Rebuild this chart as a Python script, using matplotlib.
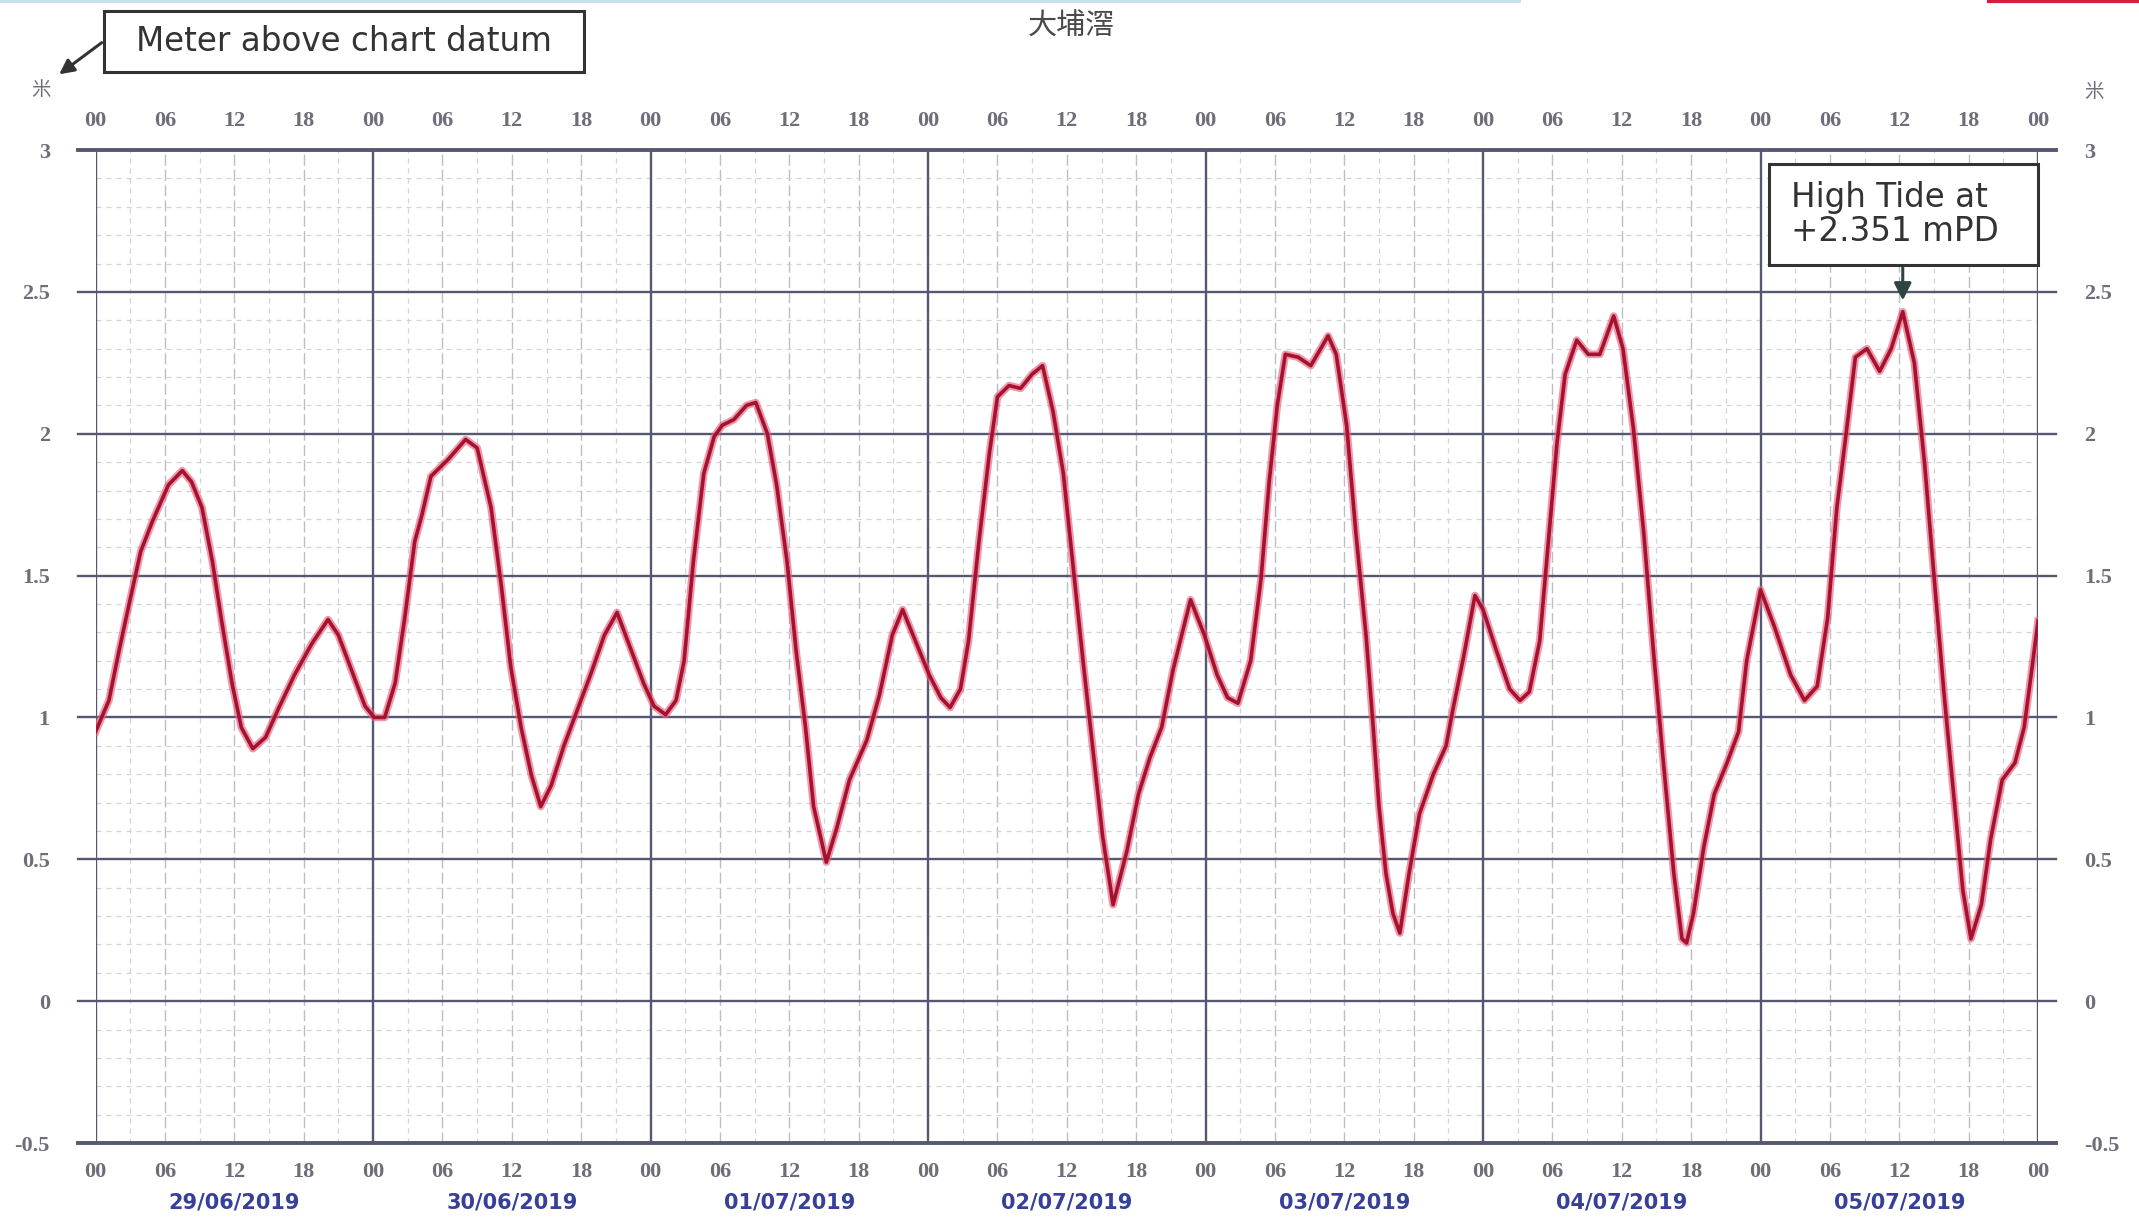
import numpy as np
import matplotlib
matplotlib.use("Agg")
from matplotlib import pyplot as plt
from matplotlib import patches, transforms
from matplotlib.lines import Line2D

# tide level at Tai Po Kau, hours counted from 00:00 29/06/2019
hours = [0, 1.15, 2, 2.9, 3.9, 4.9, 6.3, 7.5, 8.3, 9.2, 10.1, 10.9, 11.8, 12.6, 13.6,
         14.7, 15.8, 17.2, 18.7, 20.1, 21.0, 22.1, 23.3, 24.1, 25.0, 25.9, 26.7, 27.6,
         28.2, 29.0, 30.5, 32.0, 33.0, 34.2, 35.1, 35.9, 36.8, 37.7, 38.5, 39.4, 40.5,
         41.7, 42.8, 44.0, 45.1, 46.3, 47.4, 48.3, 49.3, 50.2, 50.9, 51.7, 52.6, 53.5,
         54.2, 55.2, 56.3, 57.1, 58.1, 58.9, 59.8, 60.6, 61.4, 62.1, 63.2, 64.1, 65.2,
         66.7, 67.8, 68.9, 69.8, 70.9, 72.1, 73.1, 73.9, 74.8, 75.5, 76.4, 77.3, 78.0,
         79.0, 80.0, 81.0, 81.9, 82.8, 83.7, 84.5, 85.4, 86.3, 87.1, 88.0, 89.2, 90.2,
         91.2, 92.2, 93.2, 94.7, 95.9, 97.0, 97.9, 98.8, 99.9, 100.8, 101.5, 102.2,
         102.9, 104.0, 105.1, 106.6, 107.3, 108.2, 109.0, 109.9, 110.5, 111.0, 111.6,
         112.2, 112.8, 113.6, 114.5, 115.7, 116.8, 117.4, 118.3, 119.3, 120.0, 121.2,
         122.3, 123.2, 124.0, 124.9, 125.5, 126.4, 127.1, 128.1, 129.1, 130.1, 131.3,
         132.1, 133.0, 133.9, 134.7, 135.6, 136.5, 137.2, 137.6, 138.2, 139.1, 140.0,
         141.1, 142.1, 142.8, 144.0, 145.2, 146.6, 147.8, 148.9, 149.8, 150.6, 151.4,
         152.2, 153.2, 154.3, 155.3, 156.3, 157.3, 158.2, 159.0, 159.9, 160.8, 161.5,
         162.2, 163.1, 163.9, 164.9, 166.0, 166.8, 167.4, 168.0]
level = [0.95, 1.06, 1.23, 1.40, 1.585, 1.69, 1.82, 1.87, 1.83, 1.74, 1.55, 1.34, 1.12, 0.965, 0.89,
         0.93, 1.03, 1.15, 1.26, 1.345, 1.29, 1.17, 1.04, 1.00, 1.00, 1.12, 1.34, 1.62,
         1.71, 1.85, 1.91, 1.98, 1.95, 1.74, 1.46, 1.18, 0.965, 0.795, 0.686, 0.76, 0.90,
         1.03, 1.15, 1.29, 1.37, 1.24, 1.12, 1.04, 1.01, 1.06, 1.20, 1.55, 1.86, 1.99,
         2.03, 2.05, 2.10, 2.11, 2.00, 1.82, 1.55, 1.23, 0.965, 0.686, 0.49, 0.61, 0.78,
         0.92, 1.08, 1.29, 1.38, 1.27, 1.15, 1.07, 1.035, 1.10, 1.27, 1.62, 1.93, 2.13,
         2.17, 2.16, 2.21, 2.24, 2.08, 1.86, 1.55, 1.20, 0.87, 0.58, 0.34, 0.53, 0.73,
         0.86, 0.965, 1.17, 1.415, 1.29, 1.15, 1.07, 1.05, 1.20, 1.49, 1.83, 2.10,
         2.28, 2.27, 2.24, 2.345, 2.28, 2.03, 1.65, 1.28, 0.965, 0.686, 0.45,
         0.31, 0.24, 0.45, 0.66, 0.80, 0.90, 1.03, 1.21, 1.43, 1.38, 1.23,
         1.10, 1.06, 1.09, 1.27, 1.55, 1.97, 2.21, 2.33, 2.28, 2.28, 2.415,
         2.30, 2.02, 1.65, 1.25, 0.84, 0.45, 0.22, 0.205, 0.31, 0.545, 0.73,
         0.84, 0.95, 1.20, 1.45, 1.32, 1.15, 1.06, 1.11, 1.35, 1.74, 2.00,
         2.27, 2.30, 2.22, 2.30, 2.43, 2.25, 1.89, 1.50, 1.07, 0.686, 0.39,
         0.22, 0.34, 0.57, 0.78, 0.84, 0.965, 1.15, 1.34]

dates = ["29/06/2019", "30/06/2019", "01/07/2019", "02/07/2019",
         "03/07/2019", "04/07/2019", "05/07/2019"]
hour_labels = ["00", "06", "12", "18"]
y_ticks = [-0.5, 0, 0.5, 1, 1.5, 2, 2.5, 3]
y_labels = ["-0.5", "0", "0.5", "1", "1.5", "2", "2.5", "3"]
peak_hour, peak_level = 156.3, 2.43

fig = plt.figure(figsize=(21.39, 12.2), dpi=100)
ax = fig.add_axes([0.0447, 0.0631, 0.9081, 0.8139])
ax.set_xlim(0, 168)
ax.set_ylim(-0.5, 3)
for s in ax.spines.values():
    s.set_visible(False)

grid_dark = "#545870"
tick_col = "#6e6e7a"

# minor grid: 0.1 m and 3 h
ax.set_xticks(np.arange(0, 169, 3), minor=True)
ax.set_yticks(np.arange(-0.5, 3.01, 0.1), minor=True)
ax.grid(which="minor", color="#d2d2da", lw=0.9, ls=(0, (4, 4)))
for h in range(6, 168, 6):
    if h % 24:
        ax.axvline(h, color="#bdbdc8", lw=1.0, ls=(0, (8, 3)), zorder=1)

# major grid
for y in y_ticks:
    lw = 2.8 if y in (-0.5, 3) else 1.7
    ax.axhline(y, xmin=-0.009, xmax=1.009, color=grid_dark, lw=lw, clip_on=False, zorder=2)
for d in range(8):
    ax.axvline(d * 24, color=grid_dark, lw=1.7, zorder=2)

# tide curve
ax.plot(hours, level, color="#e8607c", lw=5.5, alpha=0.65, zorder=4, solid_joinstyle="round")
ax.plot(hours, level, color="#a3122e", lw=2.6, zorder=5, solid_joinstyle="round")

# ticks
tick_font = dict(family="Liberation Serif", weight="bold", size=16, color=tick_col)
ax.set_xticks(range(0, 169, 6))
ax.set_xticklabels([hour_labels[(i // 6) % 4] for i in range(0, 169, 6)], **tick_font)
ax.set_yticks(y_ticks)
ax.set_yticklabels(y_labels, **tick_font)
ax.tick_params(which="both", length=0)
ax.tick_params(axis="x", which="major", labeltop=True, labelbottom=True, pad=14)
ax.tick_params(axis="y", which="major", labelleft=True, labelright=True, pad=33)
for tick in ax.yaxis.get_major_ticks():
    tick.label1.set_horizontalalignment("right")
    tick.label2.set_horizontalalignment("left")

# date labels under each day
tr = transforms.blended_transform_factory(ax.transData, fig.transFigure)
for i, d in enumerate(dates):
    ax.text(i * 24 + 12, 0.014, d, transform=tr, ha="center", va="center",
            fontsize=15, fontweight="bold", color="#36409a", family="DejaVu Sans")

# title and unit labels
cjk = ["Noto Sans CJK TC", "DejaVu Sans"]
fig.text(0.5007, 0.978, "大埔滘", ha="center", va="center", fontsize=21, color="#4a4a4a",
         family=cjk, fontweight="medium")
fig.text(0.0192, 0.927, "米", ha="center", va="center", fontsize=14, color=tick_col, family=cjk)
fig.text(0.979, 0.925, "米", ha="center", va="center", fontsize=14, color=tick_col, family=cjk)

# annotation box: chart datum
fig.add_artist(patches.Rectangle((0.0486, 0.941), 0.2244, 0.05, transform=fig.transFigure,
                                 facecolor="white", edgecolor="#333333", lw=2.2, zorder=10))
fig.text(0.1608, 0.9656, "Meter above chart datum", ha="center", va="center",
         fontsize=23.5, color="#333333", zorder=11)
ax.annotate("", xy=(0.0266, 0.9377), xycoords="figure fraction",
            xytext=(0.0486, 0.9664), textcoords="figure fraction",
            arrowprops=dict(arrowstyle="-|>", color="#333333", lw=2.2, mutation_scale=22),
            annotation_clip=False, zorder=11)

# annotation box: high tide
fig.add_artist(patches.Rectangle((0.827, 0.7828), 0.1258, 0.0828, transform=fig.transFigure,
                                 facecolor="white", edgecolor="#333333", lw=2.2, zorder=10))
fig.text(0.8373, 0.8242, "High Tide at\n+2.351 mPD", ha="left", va="center",
         fontsize=23.5, color="#333333", linespacing=1.05, zorder=11)
ax.annotate("", xy=(peak_hour, peak_level + 0.03), xycoords="data",
            xytext=(peak_hour, 0.7828), textcoords=("data", "figure fraction"),
            arrowprops=dict(arrowstyle="-|>", color="#2f4545", lw=2.2, mutation_scale=26),
            annotation_clip=False, zorder=11)

# scan edge marks at top
fig.add_artist(Line2D([0.0, 0.71], [0.999, 0.999], transform=fig.transFigure, color="#c4def0", lw=2))
fig.add_artist(Line2D([0.93, 1.0], [0.999, 0.999], transform=fig.transFigure, color="#d0203a", lw=3))

fig.savefig("out.png", dpi=100)
